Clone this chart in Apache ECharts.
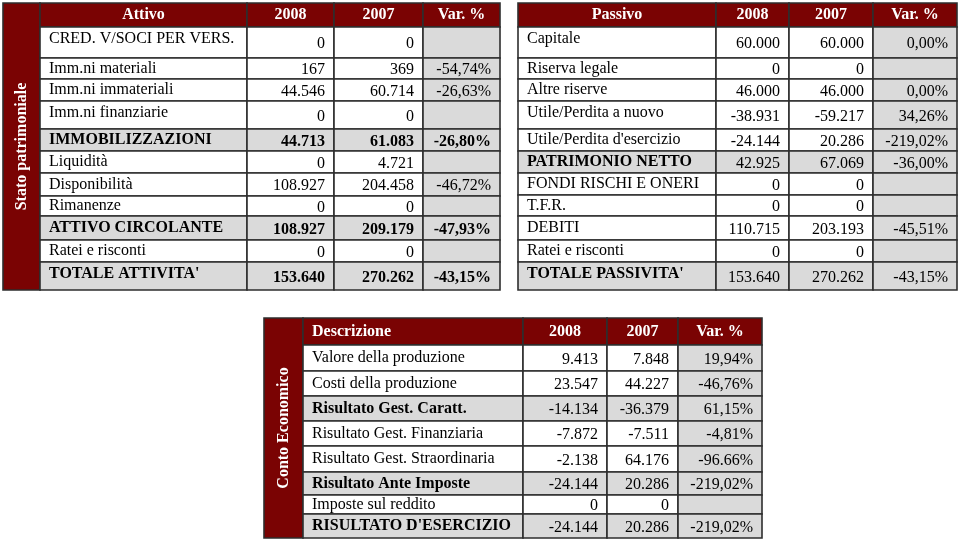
<!DOCTYPE html>
<html>
<head>
<meta charset="utf-8">
<script src="https://cdn.jsdelivr.net/npm/echarts@6/dist/echarts.min.js"></script>
<style>
  html, body { margin: 0; padding: 0; background: #fff; }
  #chart { width: 960px; height: 541px; }
</style>
</head>
<body>
<div id="chart"></div>
<script>
// Stato patrimoniale - Attivo
const attivoHeader = ['Attivo', '2008', '2007', 'Var. %']
const attivoVoci = ['CRED. V/SOCI PER VERS.', 'Imm.ni materiali', 'Imm.ni immateriali', 'Imm.ni finanziarie',
  'IMMOBILIZZAZIONI', 'Liquidità', 'Disponibilità', 'Rimanenze', 'ATTIVO CIRCOLANTE', 'Ratei e risconti', "TOTALE ATTIVITA'"]
const attivo2008 = ['0', '167', '44.546', '0', '44.713', '0', '108.927', '0', '108.927', '0', '153.640']
const attivo2007 = ['0', '369', '60.714', '0', '61.083', '4.721', '204.458', '0', '209.179', '0', '270.262']
const attivoVar = ['', '-54,74%', '-26,63%', '', '-26,80%', '', '-46,72%', '', '-47,93%', '', '-43,15%']
const attivoTotali = [4, 8, 10]

// Stato patrimoniale - Passivo
const passivoHeader = ['Passivo', '2008', '2007', 'Var. %']
const passivoVoci = ['Capitale', 'Riserva legale', 'Altre riserve', 'Utile/Perdita a nuovo', "Utile/Perdita d'esercizio",
  'PATRIMONIO NETTO', 'FONDI RISCHI E ONERI', 'T.F.R.', 'DEBITI', 'Ratei e risconti', "TOTALE PASSIVITA'"]
const passivo2008 = ['60.000', '0', '46.000', '-38.931', '-24.144', '42.925', '0', '0', '110.715', '0', '153.640']
const passivo2007 = ['60.000', '0', '46.000', '-59.217', '20.286', '67.069', '0', '0', '203.193', '0', '270.262']
const passivoVar = ['0,00%', '', '0,00%', '34,26%', '-219,02%', '-36,00%', '', '', '-45,51%', '', '-43,15%']
const passivoTotali = [5, 10]

// Conto economico
const ceHeader = ['Descrizione', '2008', '2007', 'Var. %']
const ceVoci = ['Valore della produzione', 'Costi della produzione', 'Risultato Gest. Caratt.', 'Risultato Gest. Finanziaria',
  'Risultato Gest. Straordinaria', 'Risultato Ante Imposte', 'Imposte sul reddito', "RISULTATO D'ESERCIZIO"]
const ce2008 = ['9.413', '23.547', '-14.134', '-7.872', '-2.138', '-24.144', '0', '-24.144']
const ce2007 = ['7.848', '44.227', '-36.379', '-7.511', '64.176', '20.286', '0', '20.286']
const ceVar = ['19,94%', '-46,76%', '61,15%', '-4,81%', '-96.66%', '-219,02%', '', '-219,02%']
const ceTotali = [2, 5, 7]

const RED = '#7a0303'
const GREY = '#dadada'
const LINE = '#2e2e2e'
const FONT = 'Liberation Serif'

const tables = [
  {
    left: 3, top: 3, strip: 'Stato patrimoniale', headLeft: false, boldNum: true, labelTop: 12,
    colW: [37, 207, 87, 89, 77],
    rowH: [24, 31, 21, 22, 28, 22, 22, 23, 20, 24, 22, 28],
    header: attivoHeader, voci: attivoVoci, v1: attivo2008, v2: attivo2007, v3: attivoVar, totali: attivoTotali
  },
  {
    left: 518, top: 3, strip: null, headLeft: false, boldNum: false, labelTop: 12,
    colW: [198, 73, 84, 84],
    rowH: [24, 31, 21, 22, 28, 22, 22, 22, 21, 24, 22, 28],
    header: passivoHeader, voci: passivoVoci, v1: passivo2008, v2: passivo2007, v3: passivoVar, totali: passivoTotali
  },
  {
    left: 264, top: 318, strip: 'Conto Economico', headLeft: true, boldNum: false, labelTop: 14,
    colW: [39, 220, 84, 71, 84],
    rowH: [27, 26, 25, 25, 25, 26, 23, 19, 24],
    header: ceHeader, voci: ceVoci, v1: ce2008, v2: ce2007, v3: ceVar, totali: ceTotali
  }
]

function cumulate(arr) {
  const out = [0]
  arr.forEach(v => out.push(out[out.length - 1] + v))
  return out
}

const grids = [], xAxes = [], yAxes = [], series = []

tables.forEach((t, k) => {
  const colEdge = cumulate(t.colW)
  const rowEdge = cumulate(t.rowH)
  const first = t.strip ? 1 : 0
  const cells = []
  if (t.strip) {
    cells.push({ value: [0, 0], kind: 'strip', text: t.strip })
  }
  t.header.forEach((h, j) => {
    cells.push({ value: [first + j, 0], kind: 'head', text: h, align: (j === 0 && t.headLeft) ? 'left' : 'center' })
  })
  t.voci.forEach((v, i) => {
    const tot = t.totali.indexOf(i) >= 0
    const vals = [v, t.v1[i], t.v2[i], t.v3[i]]
    vals.forEach((txt, j) => {
      cells.push({
        value: [first + j, i + 1],
        kind: j === 0 ? 'label' : 'num',
        text: txt,
        bold: tot && (j === 0 || t.boldNum),
        fill: (tot || j === 3) ? GREY : '#fff'
      })
    })
  })

  grids.push({ left: t.left, top: t.top, width: colEdge[colEdge.length - 1], height: rowEdge[rowEdge.length - 1] })
  xAxes.push({ type: 'value', gridIndex: k, min: 0, max: colEdge[colEdge.length - 1], show: false })
  yAxes.push({ type: 'value', gridIndex: k, min: 0, max: rowEdge[rowEdge.length - 1], inverse: true, show: false })

  series.push({
    type: 'custom',
    xAxisIndex: k,
    yAxisIndex: k,
    data: cells,
    animation: false,
    renderItem: (params, api) => {
      const d = cells[params.dataIndex]
      const c = api.value(0)
      const r = api.value(1)
      const r0 = d.kind === 'strip' ? 0 : r
      const r1 = d.kind === 'strip' ? t.rowH.length : r + 1
      const p0 = api.coord([colEdge[c], rowEdge[r0]])
      const p1 = api.coord([colEdge[c + 1], rowEdge[r1]])
      const x = p0[0], y = p0[1], w = p1[0] - p0[0], h = p1[1] - p0[1]

      let fill = d.fill, tx, ty, align, color = '#000', weight = d.bold ? 'bold' : 'normal', rot = 0
      if (d.kind === 'strip' || d.kind === 'head') {
        fill = RED
        color = '#fff'
        weight = 'bold'
      }
      if (d.kind === 'strip') {
        tx = x + w / 2; ty = y + h / 2; align = 'center'; rot = Math.PI / 2
      } else if (d.kind === 'head') {
        align = d.align
        tx = align === 'left' ? x + 9 : x + w / 2
        ty = y + h / 2
      } else if (d.kind === 'label') {
        align = 'left'; tx = x + 9; ty = Math.min(y + h / 2, y + t.labelTop)
      } else {
        align = 'right'; tx = x + w - 9; ty = y + h / 2 + 1.5
      }
      return {
        type: 'group',
        children: [
          {
            type: 'rect',
            shape: { x: x, y: y, width: w, height: h },
            style: { fill: fill, stroke: LINE, lineWidth: 1.6 }
          },
          {
            type: 'text',
            x: tx, y: ty, rotation: rot,
            style: {
              text: d.text, fill: color, align: align, verticalAlign: 'middle',
              fontFamily: FONT, fontSize: 16, fontWeight: weight
            }
          }
        ]
      }
    }
  })
})

const chart = echarts.init(document.getElementById('chart'))
chart.setOption({
  animation: false,
  grid: grids,
  xAxis: xAxes,
  yAxis: yAxes,
  series: series
})
</script>
</body>
</html>
